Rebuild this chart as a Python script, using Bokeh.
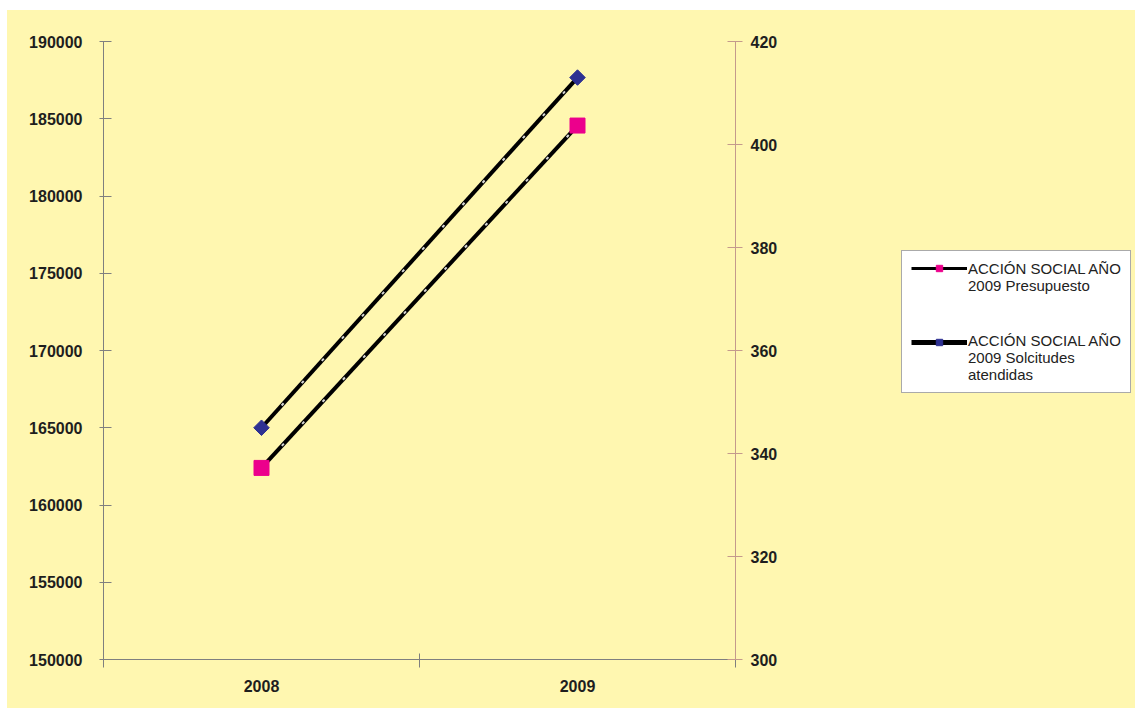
from bokeh.plotting import figure
from bokeh.layouts import row
from bokeh.models import (Range1d, LinearAxis, FixedTicker, BasicTickFormatter,
                          Legend, LegendItem, ColumnDataSource)
from bokeh.embed import file_html
from bokeh.resources import INLINE
import math

categories = ["2008", "2009"]
presupuesto = [162400, 184560]
solicitudes = [345, 413]
left_ticks = [150000, 155000, 160000, 165000, 170000, 175000, 180000, 185000, 190000]
right_ticks = [300, 320, 340, 360, 380, 400, 420]
label_pres = "ACCIÓN SOCIAL AÑO\n2009 Presupuesto"
label_sol = "ACCIÓN SOCIAL AÑO\n2009 Solcitudes\natendidas"

BG = "#FFF7B0"
FONT = "Liberation Sans"
PINK = "#EC008C"
BLUE = "#2E3192"

xs = [i + 0.5 for i in range(len(categories))]
src_p = ColumnDataSource(dict(x=xs, y=presupuesto))
src_s = ColumnDataSource(dict(x=xs, y=solicitudes))

p = figure(frame_width=632, frame_height=618, output_backend="svg",
           toolbar_location=None, x_range=Range1d(0, len(categories)),
           y_range=Range1d(150000, 190000),
           min_border_left=96, min_border_right=45, min_border_top=31,
           min_border_bottom=49, x_axis_type=None, y_axis_type=None)
p.background_fill_color = BG
p.border_fill_color = BG
p.outline_line_color = None
p.xgrid.visible = False
p.ygrid.visible = False
p.extra_y_ranges = {"right": Range1d(300, 420)}

def style_axis(ax, color):
    ax.axis_line_color = color
    ax.major_tick_line_color = color
    ax.minor_tick_line_color = color
    ax.major_label_text_font = FONT
    ax.major_label_text_font_style = "bold"
    ax.major_label_text_font_size = "16px"
    ax.major_label_text_color = "#1E1E1E"

# bottom axis: labels at category centers, ticks at category boundaries (minor ticks)
xb = LinearAxis(ticker=FixedTicker(ticks=xs, minor_ticks=list(range(len(categories) + 1))),
                major_label_overrides={x: c for x, c in zip(xs, categories)})
style_axis(xb, "#7F7F7F")
xb.major_tick_in = 0
xb.major_tick_out = 0
xb.minor_tick_in = 6
xb.minor_tick_out = 8
xb.major_label_standoff = 12
p.add_layout(xb, "below")

yl = LinearAxis(ticker=FixedTicker(ticks=left_ticks, minor_ticks=[]),
                formatter=BasicTickFormatter(use_scientific=False))
style_axis(yl, "#7F7F7F")
yl.major_tick_in = 8
yl.major_tick_out = 4
yl.major_label_standoff = 17
p.add_layout(yl, "left")

yr = LinearAxis(y_range_name="right", ticker=FixedTicker(ticks=right_ticks, minor_ticks=[]))
style_axis(yr, "#C49A8C")
yr.major_tick_in = 8
yr.major_tick_out = 7
yr.major_label_standoff = 8
p.add_layout(yr, "right")

p.line("x", "y", source=src_p, line_color="black", line_width=4)
p.line("x", "y", source=src_p, line_color="#D8D8D8", line_width=2, line_dash="3 27")
p.line("x", "y", source=src_s, line_color="black", line_width=4, y_range_name="right")
p.line("x", "y", source=src_s, line_color="#D8D8D8", line_width=2, line_dash="3 27",
       y_range_name="right")
p.scatter("x", "y", source=src_p, marker="square", size=15,
          fill_color=PINK, line_color=PINK)
p.scatter("x", "y", source=src_s, marker="square", size=11, angle=math.pi / 4,
          fill_color=BLUE, line_color=BLUE, y_range_name="right")

# legend panel (separate canvas so the legend is not clipped by the plot frame);
# its renderers use the same data, which lies outside this panel's visible range
q = figure(width=355, height=698, output_backend="svg", toolbar_location=None,
           x_range=Range1d(0, 1), y_range=Range1d(0, 1), x_axis_type=None, y_axis_type=None,
           min_border=0)
q.background_fill_color = BG
q.border_fill_color = BG
q.outline_line_color = None
q.xgrid.visible = False
q.ygrid.visible = False
k1 = q.line("x", "y", source=src_p, line_color="black", line_width=3)
k1m = q.scatter("x", "y", source=src_p, marker="square", size=11,
                fill_color=PINK, line_color=PINK)
k2 = q.line("x", "y", source=src_s, line_color="black", line_width=5)
k2m = q.scatter("x", "y", source=src_s, marker="square", size=8,
                angle=math.pi / 4, fill_color=BLUE, line_color=BLUE)
blank = q.line("x", "y", source=src_p, line_alpha=0)

def base_legend(items, loc):
    lg = Legend(items=items, location=loc)
    lg.label_text_font = FONT
    lg.label_text_font_size = "15px"
    lg.label_text_color = "#222222"
    lg.label_text_line_height = 1.15
    lg.glyph_width = 56
    lg.glyph_height = 16
    lg.label_standoff = 1
    lg.padding = 9
    lg.margin = 0
    return lg

# text box
legend = base_legend([LegendItem(label=label_pres, renderers=[blank]),
                      LegendItem(label=label_sol, renderers=[blank])], (121, 266))
legend.spacing = 38
legend.border_line_color = "#555555"
legend.border_line_width = 1
legend.background_fill_color = "white"
legend.background_fill_alpha = 1
q.add_layout(legend, "center")

# glyph samples aligned with the first line of each label
marks = base_legend([LegendItem(label=" ", renderers=[k1, k1m]),
                     LegendItem(label=" ", renderers=[k2, k2m])], (131, 309))
marks.spacing = 58
marks.border_line_color = None
marks.background_fill_alpha = 0
q.add_layout(marks, "center")

layout = row(p, q, styles={"background-color": BG, "margin-left": "7px",
                           "margin-top": "10px"})
open("out.html", "w").write(file_html(layout, INLINE))
